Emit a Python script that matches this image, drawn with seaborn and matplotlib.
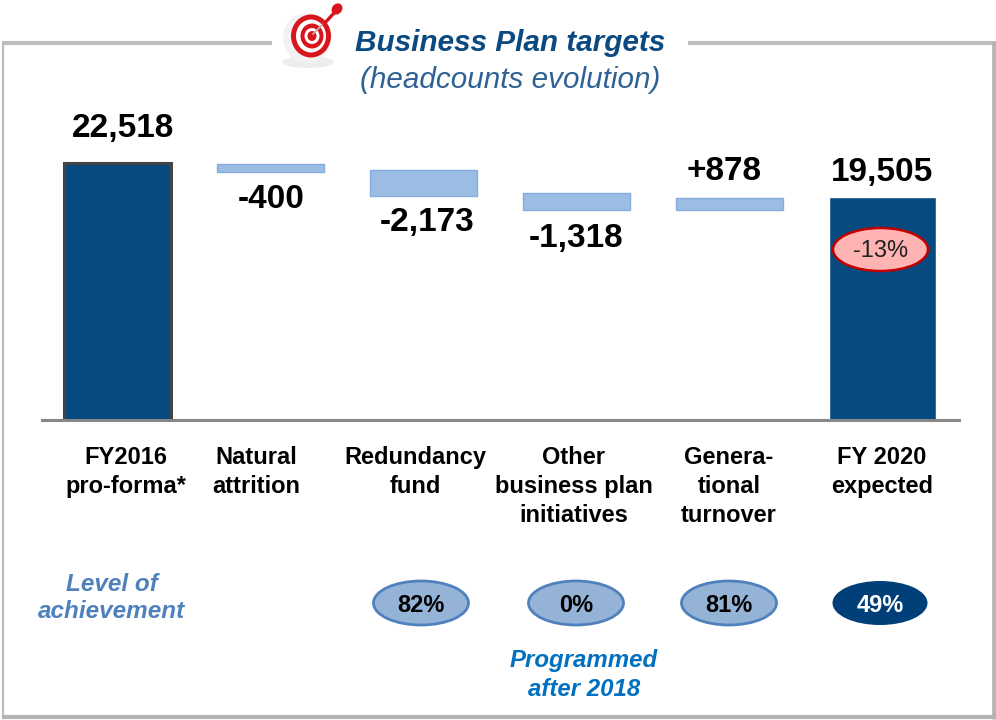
import pandas as pd
import matplotlib.pyplot as plt
import seaborn as sns
from matplotlib.lines import Line2D
from matplotlib.patches import Ellipse, Polygon

categories = ['FY2016\npro-forma*', 'Natural\nattrition', 'Redundancy\nfund',
              'Other\nbusiness plan\ninitiatives', 'Genera-\ntional\nturnover', 'FY 2020\nexpected']
total_cats = [categories[0], categories[5]]
total_vals = [22518, 19505]
float_cats = categories[1:5]
# bar ends
float_tops = [22460, 21900, 19900, 19430]
float_lows = [21780, 19600, 18430, 18430]
value_labels = ['22,518', '-400', '-2,173', '-1,318', '+878', '19,505']
achievement = ['82%', '0%', '81%', '49%']

NAVY = '#074A80'
LIGHT = '#9BBDE3'
LIGHT_EDGE = '#86ABDE'

sns.set_style('white')
plt.rcParams['font.family'] = ['Liberation Sans', 'DejaVu Sans']

fig = plt.figure(figsize=(9.96, 7.2), dpi=100)
ax = fig.add_axes([41.5 / 996, 1 - 419.5 / 720, (958.5 - 41.5) / 996, (419.5 - 100) / 720])

totals = pd.DataFrame({'cat': total_cats, 'val': total_vals})
floats = pd.DataFrame({'cat': float_cats, 'low': float_lows, 'top': float_tops})
floats['height'] = floats['top'] - floats['low']

sns.barplot(data=totals, x='cat', y='val', order=categories, color=NAVY, width=0.7,
            saturation=1, ax=ax)
sns.barplot(data=floats, x='cat', y='height', order=categories, color=LIGHT, width=0.7,
            saturation=1, bottom=floats['low'].values, edgecolor=LIGHT_EDGE, linewidth=1, ax=ax)
ax.patches[0].set_edgecolor('#444444')
ax.patches[0].set_linewidth(2.2)

ax.set_xlim(-0.5, 5.5)
ax.set_ylim(0, 28060)
ax.set_xlabel('')
ax.set_ylabel('')
ax.set_xticks([])
ax.set_yticks([])
sns.despine(ax=ax, left=True)
ax.spines['bottom'].set_color('#888888')
ax.spines['bottom'].set_linewidth(2.2)
ax.patch.set_alpha(0)

# overlay in picture pixels for the slide furniture
ov = fig.add_axes([0, 0, 1, 1], zorder=5)
ov.set_xlim(0, 996)
ov.set_ylim(720, 0)
ov.axis('off')

# frame with the gap for the title
frame_col = '#BDBDBD'
ov.add_line(Line2D([2, 272], [43, 43], color=frame_col, lw=2.9, solid_capstyle='butt'))
ov.add_line(Line2D([688, 996], [43, 43], color=frame_col, lw=2.9, solid_capstyle='butt'))
ov.add_line(Line2D([3, 3], [41, 719], color=frame_col, lw=1.6, solid_capstyle='butt'))
ov.add_line(Line2D([993.5, 993.5], [41, 719], color='#B4B4B4', lw=3.4, solid_capstyle='butt'))
ov.add_line(Line2D([2, 996], [717, 717], color='#B4B4B4', lw=3, solid_capstyle='butt'))

# target icon
ov.add_patch(Ellipse((308, 62), 52, 12, color='#EDEDED', lw=0))
ov.add_patch(Ellipse((307, 38), 48, 50, color='#F2F2F2', lw=0))
rings = [(40, 43, '#D8141C', 311), (30, 33, '#FFFFFF', 311), (23, 25, '#D8141C', 312),
         (15, 16, '#FFFFFF', 312), (9, 10, '#D8141C', 312)]
for w, h, c, cx in rings:
    ov.add_patch(Ellipse((cx, 36), w, h, color=c, lw=0))
ov.add_line(Line2D([313, 334], [34, 13], color='#D0A8A8', lw=1.3))
ov.add_line(Line2D([324, 334], [24, 13], color='#D8141C', lw=2.4))
ov.add_patch(Ellipse((337, 9), 10, 12, angle=40, color='#D8141C', lw=0))

ov.text(510, 43, 'Business Plan targets', ha='center', va='center', fontsize=21.4,
        fontweight='bold', fontstyle='italic', color='#0B4A80')
ov.text(510, 80, '(headcounts evolution)', ha='center', va='center', fontsize=21.3,
        fontstyle='italic', color='#2F6195')

value_pos = [(123, 128), (271, 199), (427, 222), (576, 238), (724, 172), (882, 172)]
for (x, y), s in zip(value_pos, value_labels):
    ov.text(x, y, s, ha='center', va='center', fontsize=24, fontweight='bold', color='black')

cat_x = [125.5, 256, 415, 573.5, 729, 882]
for x, s in zip(cat_x, categories):
    ov.text(x, 446, s, ha='center', va='top', fontsize=17, fontweight='bold',
            color='black', linespacing=1.33)

ov.add_patch(Ellipse((880.5, 249.5), 95, 43, facecolor='#FFB3B3', edgecolor='#C00000', lw=1.8))
ov.text(880.5, 251, '-13%', ha='center', va='center', fontsize=17, color='#222222')

ov.text(112, 598, 'Level of\nachievement', ha='center', va='center', fontsize=17.5,
        fontweight='bold', fontstyle='italic', color='#4F81BD', linespacing=1.25)

pill_x = [421, 576, 729, 880]
for i, (x, s) in enumerate(zip(pill_x, achievement)):
    last = i == len(achievement) - 1
    ov.add_patch(Ellipse((x, 603), 95, 44, facecolor='#003F77' if last else '#95B3D7',
                         edgecolor='#003F77' if last else '#4F81BD', lw=0 if last else 2))
    ov.text(x, 605, s, ha='center', va='center', fontsize=17, fontweight='bold',
            color='white' if last else 'black')

ov.text(584, 675, 'Programmed\nafter 2018', ha='center', va='center', fontsize=17.3,
        fontweight='bold', fontstyle='italic', color='#0070C0', linespacing=1.3)

fig.savefig('out.png', dpi=100)
